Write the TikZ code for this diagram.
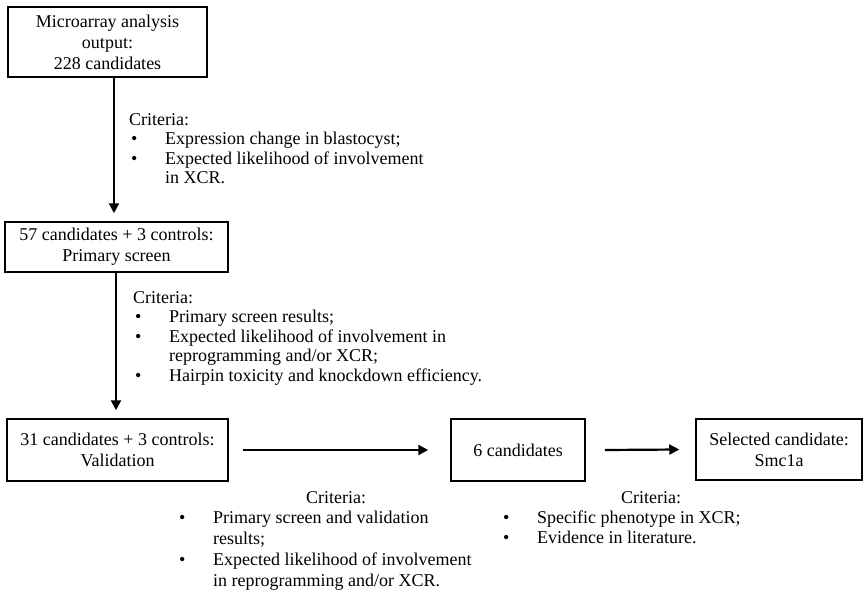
\documentclass[tikz,border=0pt]{standalone}
\usepackage{fontspec}
\setmainfont{Liberation Serif}
\usetikzlibrary{arrows.meta}
\newlength{\bulind}
\setlength{\bulind}{36pt}
\newlength{\bulpad}
\setlength{\bulpad}{2pt}
% bullet item with hanging text, and a continuation line
\newcommand{\bitem}[1]{\makebox[\bulind][l]{\hspace*{\bulpad}\textbullet}#1}
\newcommand{\bcont}[1]{\hspace*{\bulind}#1}
\begin{document}
\begin{tikzpicture}[x=1pt,y=-1pt,
  box/.style={draw, line width=1.5pt, align=center, inner sep=0pt,
    font=\fontsize{18}{21}\selectfont},
  crit/.style={align=left, inner sep=0pt, font=\fontsize{18}{19.5}\selectfont},
  crithead/.style={inner sep=0pt, font=\fontsize{18}{19.5}\selectfont},
  flow/.style={line width=2.2pt, -{Triangle[length=10pt,width=10pt]}}]
\useasboundingbox (0,0) rectangle (864,594);

% stage boxes
\node[box, minimum width=199, minimum height=70] (b1) at (107.5,42) {Microarray analysis\\output:\\228 candidates};
\node[box, minimum width=223, minimum height=50] (b2) at (116.5,247) {57 candidates + 3 controls:\\Primary screen};
\node[box, minimum width=221, minimum height=62] (b3) at (117.5,450) {31 candidates + 3 controls:\\Validation};
\node[box, minimum width=134, minimum height=62] (b4) at (518,450) {6 candidates};
\node[box, minimum width=166, minimum height=61] (b5) at (779,449.5) {Selected candidate:\\Smc1a};

% connectors
\draw[flow] (b1.south -| 114,0) -- ([yshift=8pt]b2.north -| 114,0);
\draw[flow] (b2.south -| 116,0) -- ([yshift=8pt]b3.north -| 116,0);
\draw[flow] ([xshift=14pt]b3.east) -- ([xshift=-22pt]b4.west);
\draw[flow] ([xshift=19pt]b4.east) -- ([xshift=-16pt]b5.west);

% selection criteria
\node[crit, anchor=north west] (c1) at (129,113) {Criteria:\\
  \bitem{Expression change in blastocyst;}\\
  \bitem{Expected likelihood of involvement}\\
  \bcont{in XCR.}};

\node[crit, anchor=north west] (c2) at (133,291) {Criteria:\\
  \bitem{Primary screen results;}\\
  \bitem{Expected likelihood of involvement in}\\
  \bcont{reprogramming and/or XCR;}\\
  \bitem{Hairpin toxicity and knockdown efficiency.}};

\node[crithead] (h3) at (336,498) {Criteria:};
\node[crit, anchor=north west, font=\fontsize{18}{21}\selectfont] (c3) at (177,511) {%
  \bitem{Primary screen and validation}\\
  \bcont{results;}\\
  \bitem{Expected likelihood of involvement}\\
  \bcont{in reprogramming and/or XCR.}};

\node[crithead] (h4) at (651,498) {Criteria:};
\node[crit, anchor=north west, font=\fontsize{18}{20}\selectfont] (c4) at (501,511) {%
  \bitem{Specific phenotype in XCR;}\\
  \bitem{Evidence in literature.}};
\end{tikzpicture}
\end{document}
